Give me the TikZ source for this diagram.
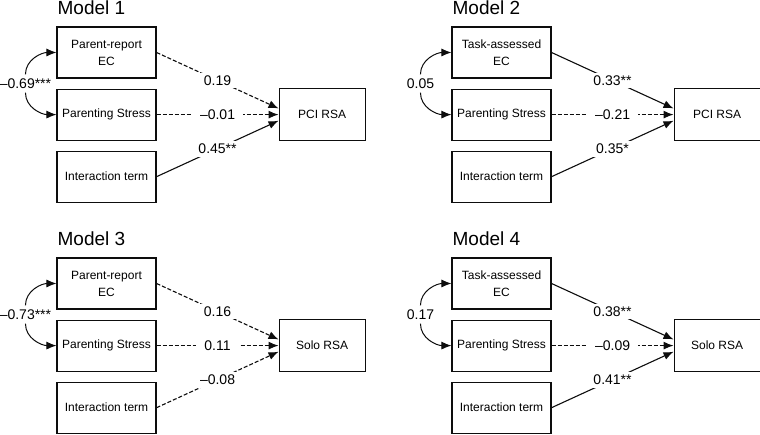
\documentclass[tikz,border=0pt]{standalone}
\usepackage{fontspec}
\setmainfont{Liberation Sans}
\usetikzlibrary{arrows.meta,positioning,calc}
\definecolor{figdark}{gray}{0.05}
\tikzset{
  predictor/.style={
    rectangle, draw=figdark, line width=1.1pt,
    minimum width=99pt, minimum height=51pt,
    align=center, inner sep=2pt, font=\fontsize{12}{17}\selectfont
  },
  outcome/.style={
    predictor, minimum width=86pt, minimum height=52pt
  },
  modeltitle/.style={font=\fontsize{19}{22}\selectfont, inner sep=0pt},
  coef/.style={font=\fontsize{14}{16}\selectfont, fill=white, inner xsep=8pt, inner ysep=3pt},
  corr/.style={font=\fontsize{14}{16}\selectfont, inner xsep=1pt, inner ysep=4pt},
  sigpath/.style={-{Latex[length=10pt,width=8pt]}, line width=1.1pt, draw=figdark},
  nspath/.style={sigpath, dash pattern=on 4pt off 2pt},
  covpath/.style={sigpath, line width=1pt}
}

\begin{document}
\begin{tikzpicture}[node distance=10pt and 122pt]
  \useasboundingbox (0,0) rectangle (760pt,435pt);

  % Model 1
  \node[predictor] (pr1) at (106.5pt,382.5pt) {Parent-report\\EC};
  \node[predictor, below=of pr1] (ps1) {Parenting Stress};
  \node[predictor, below=of ps1] (it1) {Interaction term};
  \node[outcome, right=of ps1] (out1) {PCI RSA};
  \node[modeltitle, above right=12pt and 1pt of pr1.north west] (t1) {Model 1};
  \node[corr] (cv1) at ($(pr1.west)!0.5!(ps1.west)+(-31pt,0)$) {–0.69***};

  \draw[nspath] (pr1.east) -- node[coef] {0.19} (out1.172);
  \draw[nspath] (ps1.east) -- node[coef] {–0.01} (out1.west);
  \draw[sigpath] (it1.east) -- node[coef] {0.45**} (out1.188);
  \draw[covpath] (cv1.north) to[out=90,in=180] (pr1.west);
  \draw[covpath] (cv1.south) to[out=-90,in=180] (ps1.west);

  % Model 2
  \node[predictor] (pr2) at (501.5pt,382.5pt) {Task-assessed\\EC};
  \node[predictor, below=of pr2] (ps2) {Parenting Stress};
  \node[predictor, below=of ps2] (it2) {Interaction term};
  \node[outcome, right=of ps2] (out2) {PCI RSA};
  \node[modeltitle, above right=12pt and 1pt of pr2.north west] (t2) {Model 2};
  \node[corr] (cv2) at ($(pr2.west)!0.5!(ps2.west)+(-31pt,0)$) {0.05};

  \draw[sigpath] (pr2.east) -- node[coef] {0.33**} (out2.172);
  \draw[nspath] (ps2.east) -- node[coef] {–0.21} (out2.west);
  \draw[sigpath] (it2.east) -- node[coef] {0.35*} (out2.188);
  \draw[covpath] (cv2.north) to[out=90,in=180] (pr2.west);
  \draw[covpath] (cv2.south) to[out=-90,in=180] (ps2.west);

  % Model 3
  \node[predictor] (pr3) at (106.5pt,151.5pt) {Parent-report\\EC};
  \node[predictor, below=of pr3] (ps3) {Parenting Stress};
  \node[predictor, below=of ps3] (it3) {Interaction term};
  \node[outcome, right=of ps3] (out3) {Solo RSA};
  \node[modeltitle, above right=12pt and 1pt of pr3.north west] (t3) {Model 3};
  \node[corr] (cv3) at ($(pr3.west)!0.5!(ps3.west)+(-31pt,0)$) {–0.73***};

  \draw[nspath] (pr3.east) -- node[coef] {0.16} (out3.172);
  \draw[nspath] (ps3.east) -- node[coef] {0.11} (out3.west);
  \draw[nspath] (it3.east) -- node[coef] {–0.08} (out3.188);
  \draw[covpath] (cv3.north) to[out=90,in=180] (pr3.west);
  \draw[covpath] (cv3.south) to[out=-90,in=180] (ps3.west);

  % Model 4
  \node[predictor] (pr4) at (501.5pt,151.5pt) {Task-assessed\\EC};
  \node[predictor, below=of pr4] (ps4) {Parenting Stress};
  \node[predictor, below=of ps4] (it4) {Interaction term};
  \node[outcome, right=of ps4] (out4) {Solo RSA};
  \node[modeltitle, above right=12pt and 1pt of pr4.north west] (t4) {Model 4};
  \node[corr] (cv4) at ($(pr4.west)!0.5!(ps4.west)+(-31pt,0)$) {0.17};

  \draw[sigpath] (pr4.east) -- node[coef] {0.38**} (out4.172);
  \draw[nspath] (ps4.east) -- node[coef] {–0.09} (out4.west);
  \draw[sigpath] (it4.east) -- node[coef] {0.41**} (out4.188);
  \draw[covpath] (cv4.north) to[out=90,in=180] (pr4.west);
  \draw[covpath] (cv4.south) to[out=-90,in=180] (ps4.west);
\end{tikzpicture}
\end{document}
